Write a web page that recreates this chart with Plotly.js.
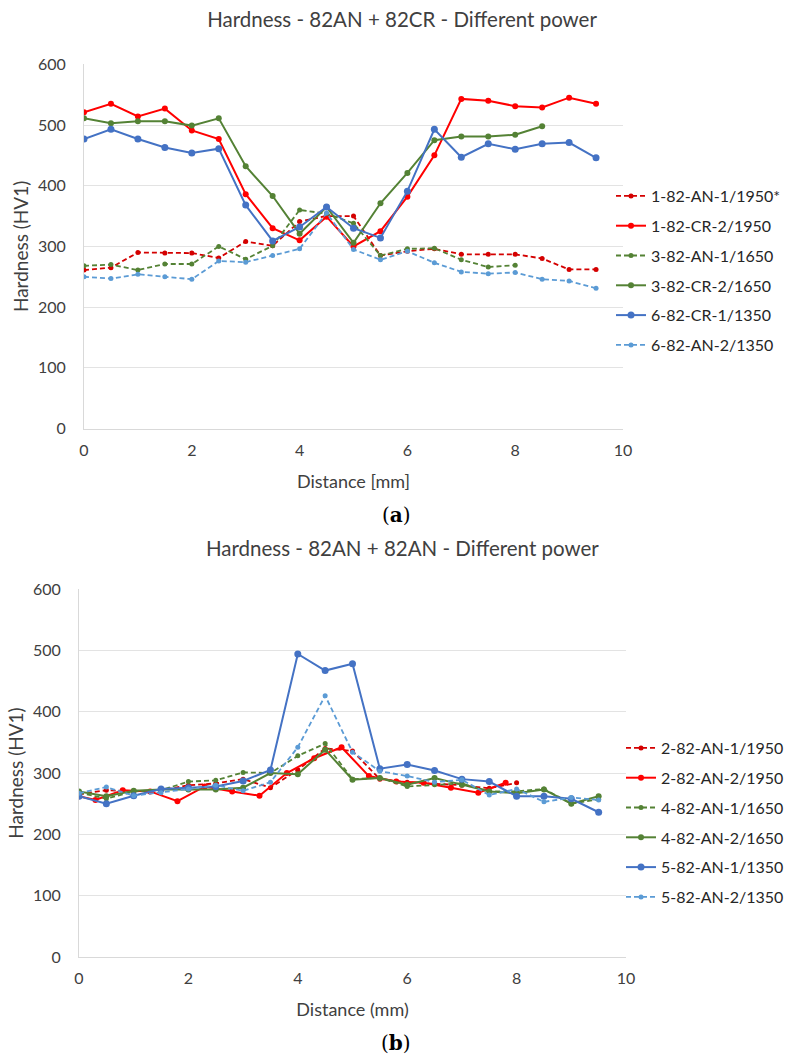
<!DOCTYPE html>
<html>
<head>
<meta charset="utf-8">
<script src="https://cdn.plot.ly/plotly-3.0.1.min.js"></script>
<style>html,body{margin:0;padding:0;background:#fff;overflow:hidden}#chart{width:790px;height:1056px}</style>
</head>
<body>
<div id="chart"></div>
<script>
// ---------- Chart (a): 82AN + 82CR ----------
const xA = [0,0.5,1,1.5,2,2.5,3,3.5,4,4.5,5,5.5,6,6.5,7,7.5,8,8.5,9,9.5];
const a_1_82_AN_1 = [261,265,290,289,289,281,308,301,341,350,350,285,292,296,287,287,287,280,262,262];
const a_1_82_CR_2 = [521,535,514,527,491,477,386,330,310,349,300,325,382,450,543,540,531,529,545,535];
const a_3_82_AN_1 = [268,270,261,271,271,300,279,301,360,354,338,285,296,297,278,266,269];
const a_3_82_CR_2 = [511,503,506,506,499,511,432,383,321,365,306,371,421,475,481,481,484,498];
const a_6_82_CR_1 = [477,493,477,463,454,461,368,309,332,365,330,314,391,493,447,469,460,469,471,446];
const a_6_82_AN_2 = [250,247,254,250,246,276,274,285,296,355,295,278,292,273,258,255,257,246,243,231];
const namesA = ['1-82-AN-1/1950*','1-82-CR-2/1950','3-82-AN-1/1650','3-82-CR-2/1650','6-82-CR-1/1350','6-82-AN-2/1350'];

// ---------- Chart (b): 82AN + 82AN ----------
const xB = [0,0.5,1,1.5,2,2.5,3,3.5,4,4.5,5,5.5,6,6.5,7,7.5,8,8.5,9,9.5];
const xB_red2 = [0,0.3,0.8,1.3,1.8,2.3,2.8,3.3,3.8,4.3,4.8,5.3,5.8,6.3,6.8,7.3,7.8];
const b_2_82_AN_1 = [265,272,270,272,280,283,290,276,305,340,336,290,285,282,280,275,284];
const b_2_82_AN_2 = [262,256,272,270,254,278,270,263,300,324,342,295,286,284,276,268,284];
const b_4_82_AN_1 = [268,258,270,272,286,288,301,300,328,348,290,292,278,281,283,270,270,274,250,257];
const b_4_82_AN_2 = [270,262,271,273,273,273,276,300,298,338,289,292,281,292,281,270,267,273,250,262];
const b_5_82_AN_1 = [262,250,263,274,276,278,287,305,494,467,478,307,314,304,290,286,262,262,258,236];
const b_5_82_AN_2 = [267,277,263,268,274,280,271,285,342,426,334,303,295,285,289,264,274,253,260,256];
const namesB = ['2-82-AN-1/1950','2-82-AN-2/1950','4-82-AN-1/1650','4-82-AN-2/1650','5-82-AN-1/1350','5-82-AN-2/1350'];

const RED='#FF0000', DRED='#D40000', GREEN='#548235', BLUE='#4472C4', LBLUE='#5B9BD5';
const DASH='5px,3px';
const FONT='Lato, "Open Sans", sans-serif';

function tr(x,y,name,color,dashed,xa,ya,leg,grp,msize){
  return {x:x,y:y,name:name,type:'scatter',mode:'lines+markers',
    xaxis:xa,yaxis:ya,legend:leg,legendgroup:grp,
    line:{color:color,width:dashed?1.8:2,dash:dashed?DASH:'solid'},
    marker:{color:color,size:msize||(dashed?5:6)}};
}

const data = [
  tr(xA,a_1_82_AN_1,namesA[0],DRED,true,'x','y','legend','a1'),
  tr(xA,a_1_82_CR_2,namesA[1],RED,false,'x','y','legend','a2'),
  tr(xA.slice(0,a_3_82_AN_1.length),a_3_82_AN_1,namesA[2],GREEN,true,'x','y','legend','a3'),
  tr(xA.slice(0,a_3_82_CR_2.length),a_3_82_CR_2,namesA[3],GREEN,false,'x','y','legend','a4'),
  tr(xA,a_6_82_CR_1,namesA[4],BLUE,false,'x','y','legend','a5',7),
  tr(xA,a_6_82_AN_2,namesA[5],LBLUE,true,'x','y','legend','a6'),
  tr(xB.slice(0,b_2_82_AN_1.length),b_2_82_AN_1,namesB[0],DRED,true,'x2','y2','legend2','b1'),
  tr(xB_red2,b_2_82_AN_2,namesB[1],RED,false,'x2','y2','legend2','b2'),
  tr(xB,b_4_82_AN_1,namesB[2],GREEN,true,'x2','y2','legend2','b3'),
  tr(xB,b_4_82_AN_2,namesB[3],GREEN,false,'x2','y2','legend2','b4'),
  tr(xB,b_5_82_AN_1,namesB[4],BLUE,false,'x2','y2','legend2','b5',7),
  tr(xB,b_5_82_AN_2,namesB[5],LBLUE,true,'x2','y2','legend2','b6')
];

const W=790,H=1056;
const px=v=>v/W, py=v=>(H-v)/H;
const tickFont={family:FONT,size:16,color:'#404040'};
const titleFont={family:FONT,size:18,color:'#404040'};
function xax(dom,title){
  return {domain:dom,range:[0,10],dtick:2,tick0:0,showgrid:false,zeroline:false,
    showline:true,linecolor:'#d9d9d9',linewidth:1,ticks:'',ticklabelstandoff:7,
    tickfont:tickFont,title:{text:title,font:titleFont,standoff:17},automargin:false,fixedrange:true};
}
function yax(dom){
  return {domain:dom,range:[0,600],dtick:100,tick0:0,showgrid:true,gridcolor:'#e3e3e3',gridwidth:1,
    zeroline:false,showline:true,linecolor:'#d9d9d9',linewidth:1,ticks:'',ticklabelstandoff:14,
    tickfont:tickFont,title:{text:'Hardness (HV1)',font:{family:FONT,size:19,color:'#404040'},standoff:4},automargin:false,fixedrange:true};
}
const legFont={family:FONT,size:16,color:'#262626'};
const layout = {
  width:W,height:H,margin:{l:0,r:0,t:0,b:0,autoexpand:false},paper_bgcolor:'#fff',plot_bgcolor:'#fff',
  showlegend:true,
  title:{text:'Hardness - 82AN + 82CR - Different power',font:{family:FONT,size:20.5,color:'#404040'},
    x:px(402),xanchor:'center',xref:'paper',y:py(20),yanchor:'middle',yref:'paper'},
  xaxis:xax([px(84),px(623)],'Distance [mm]'),
  yaxis:Object.assign(yax([py(428.5),py(64.3)]),{anchor:'x'}),
  xaxis2:Object.assign(xax([px(79),px(626)],'Distance (mm)'),{anchor:'y2'}),
  yaxis2:Object.assign(yax([py(957),py(589)]),{anchor:'x2'}),
  legend:{x:px(611),xanchor:'left',y:py(179),yanchor:'top',font:legFont,bgcolor:'rgba(0,0,0,0)',
    traceorder:'grouped',tracegroupgap:6,itemwidth:30},
  legend2:{x:px(621),xanchor:'left',y:py(731),yanchor:'top',font:legFont,bgcolor:'rgba(0,0,0,0)',
    traceorder:'grouped',tracegroupgap:6,itemwidth:30},
  annotations:[
    {text:'Hardness - 82AN + 82AN - Different power',xref:'paper',yref:'paper',x:px(402),y:py(548),
      xanchor:'center',yanchor:'middle',showarrow:false,font:{family:FONT,size:20.5,color:'#404040'}},
    {text:'(<b>a</b>)',xref:'paper',yref:'paper',x:px(396),y:py(515),xanchor:'center',yanchor:'middle',
      showarrow:false,font:{family:'"DejaVu Serif", "Liberation Serif", serif',size:20,color:'#000'}},
    {text:'(<b>b</b>)',xref:'paper',yref:'paper',x:px(396),y:py(1043),xanchor:'center',yanchor:'middle',
      showarrow:false,font:{family:'"DejaVu Serif", "Liberation Serif", serif',size:20,color:'#000'}}
  ]
};
Plotly.newPlot('chart',data,layout,{displayModeBar:false,staticPlot:true});
</script>
</body>
</html>
